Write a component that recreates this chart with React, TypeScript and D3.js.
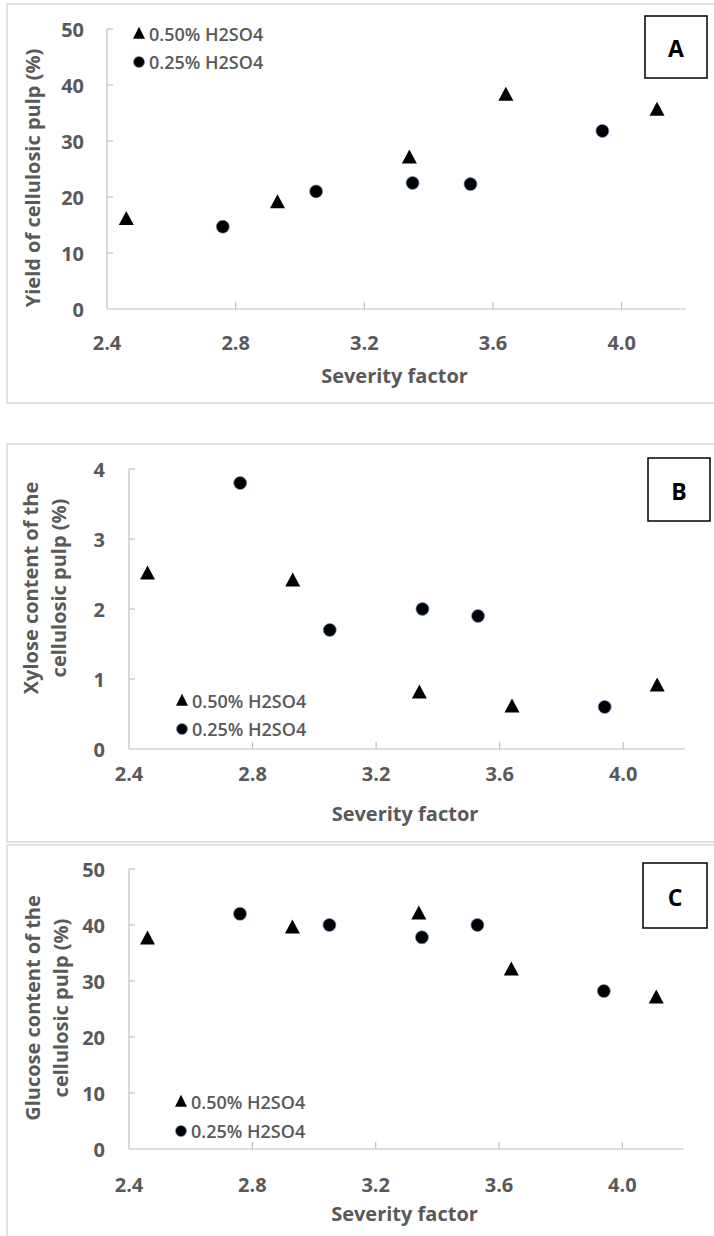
import React from "react";
import * as d3 from "d3";

// Severity factor (x) for both series
const severity050 = [2.46, 2.93, 3.34, 3.64, 4.11];
const severity025 = [2.76, 3.05, 3.35, 3.53, 3.94];

// Panel A: yield of cellulosic pulp (%)
const yieldH050 = [16, 19, 27, 38.2, 35.5];
const yieldH025 = [14.7, 21, 22.5, 22.3, 31.8];

// Panel B: xylose content (%)
const xyloseH050 = [2.5, 2.4, 0.8, 0.6, 0.9];
const xyloseH025 = [3.8, 1.7, 2.0, 1.9, 0.6];

// Panel C: glucose content (%)
const glucoseH050 = [37.5, 39.5, 42, 32, 27];
const glucoseH025 = [42, 40, 37.8, 40, 28.2];

const xTicks = [2.4, 2.8, 3.2, 3.6, 4.0];
const yTicksA = [0, 10, 20, 30, 40, 50];
const yTicksB = [0, 1, 2, 3, 4];
const yTicksC = [0, 10, 20, 30, 40, 50];

const seriesLabels = ["0.50% H2SO4", "0.25% H2SO4"];

const TXT = "#595959";
const AX = "#bfbfbf";
const FONT = "'Open Sans', 'Noto Sans', sans-serif";

type PanelProps = {
  frame: { x: number; y: number; w: number; h: number };
  xRange: [number, number];
  yRange: [number, number];
  yMax: number;
  yTicks: number[];
  yLabelX: number;
  xLabelY: number;
  xTitleY: number;
  yTitle: string[];
  yTitleX: number[];
  yTitleY: number;
  ser050: number[];
  ser025: number[];
  legend: { x: number; y: number; gap: number; size: number };
  box: { x: number; y: number; w: number; h: number; label: string };
};

const tri = (cx: number, cy: number, w: number, h: number) =>
  `M${cx},${cy - h * 0.6} L${cx + w / 2},${cy + h * 0.4} L${cx - w / 2},${cy + h * 0.4} Z`;

function Panel(p: PanelProps) {
  const x = d3.scaleLinear().domain([2.4, 4.2]).range(p.xRange);
  const y = d3.scaleLinear().domain([0, p.yMax]).range(p.yRange);
  const x0 = p.xRange[0];
  const y0 = p.yRange[0];
  const xMid = (p.xRange[0] + p.xRange[1]) / 2;
  return (
    <g>
      <rect
        x={p.frame.x}
        y={p.frame.y}
        width={p.frame.w}
        height={p.frame.h}
        fill="white"
        stroke="#d9d9d9"
        strokeWidth={1.5}
      />
      {/* axes */}
      <line x1={x0} x2={x0} y1={y(p.yMax)} y2={y0} stroke={AX} strokeWidth={1.2} />
      <line x1={x0} x2={p.xRange[1]} y1={y0} y2={y0} stroke={AX} strokeWidth={1.2} />
      {p.yTicks.map((t) => (
        <g key={"y" + t}>
          {t > 0 && <line x1={x0} x2={x0 + 6} y1={y(t)} y2={y(t)} stroke={AX} strokeWidth={1.2} />}
          <text
            x={p.yLabelX}
            y={y(t)}
            textAnchor="end"
            dominantBaseline="central"
            fontSize={20}
            fontWeight={700}
            fill={TXT}
            fontFamily={FONT}
          >
            {t}
          </text>
        </g>
      ))}
      {xTicks.map((t) => (
        <g key={"x" + t}>
          {t > 2.4 && <line x1={x(t)} x2={x(t)} y1={y0} y2={y0 - 7} stroke={AX} strokeWidth={1.2} />}
          <text
            x={x(t)}
            y={p.xLabelY}
            textAnchor="middle"
            dominantBaseline="central"
            fontSize={20}
            fontWeight={700}
            fill={TXT}
            fontFamily={FONT}
          >
            {t.toFixed(1)}
          </text>
        </g>
      ))}
      <text
        x={xMid - 2}
        y={p.xTitleY}
        textAnchor="middle"
        dominantBaseline="central"
        fontSize={20}
        fontWeight={700}
        fill={TXT}
        fontFamily={FONT}
      >
        Severity factor
      </text>
      {p.yTitle.map((line, i) => (
        <text
          key={i}
          transform={`translate(${p.yTitleX[i]},${p.yTitleY}) rotate(-90)`}
          textAnchor="middle"
          dominantBaseline="central"
          fontSize={20}
          fontWeight={700}
          fill={TXT}
          fontFamily={FONT}
        >
          {line}
        </text>
      ))}
      {/* data */}
      {severity050.map((s, i) => (
        <path key={"t" + i} d={tri(x(s), y(p.ser050[i]), 15, 14)} fill="black" />
      ))}
      {severity025.map((s, i) => (
        <circle
          key={"c" + i}
          cx={x(s)}
          cy={y(p.ser025[i])}
          r={6.5}
          fill="black"
          stroke="#6f8fc7"
          strokeWidth={0.7}
        />
      ))}
      {/* legend */}
      <path d={tri(p.legend.x, p.legend.y, 12, 12)} fill="black" />
      <circle cx={p.legend.x} cy={p.legend.y + p.legend.gap} r={5.5} fill="black" stroke="#6f8fc7" strokeWidth={0.7} />
      {seriesLabels.map((l, i) => (
        <text
          key={l}
          x={p.legend.x + 10}
          y={p.legend.y + i * p.legend.gap}
          dominantBaseline="central"
          fontSize={p.legend.size}
          fontWeight={600}
          fill={TXT}
          fontFamily={FONT}
        >
          {l}
        </text>
      ))}
      {/* panel label box */}
      <rect
        x={p.box.x}
        y={p.box.y}
        width={p.box.w}
        height={p.box.h}
        fill="white"
        stroke="black"
        strokeWidth={1.5}
      />
      <text
        x={p.box.x + p.box.w / 2}
        y={p.box.y + p.box.h / 2 + 1}
        textAnchor="middle"
        dominantBaseline="central"
        fontSize={23}
        fontWeight={700}
        fill="black"
        fontFamily={FONT}
      >
        {p.box.label}
      </text>
    </g>
  );
}

export default function App() {
  return (
    <svg
      width={714}
      height={1236}
      style={{ position: "absolute", left: 0, top: 0, background: "white" }}
    >
      <rect x={0} y={0} width={714} height={1236} fill="white" />
      <Panel
        frame={{ x: 7, y: 4, w: 720, h: 399 }}
        xRange={[107, 686]}
        yRange={[309, 29]}
        yMax={50}
        yTicks={yTicksA}
        yLabelX={84}
        xLabelY={342}
        xTitleY={375}
        yTitle={["Yield of cellulosic pulp (%)"]}
        yTitleX={[32]}
        yTitleY={178}
        ser050={yieldH050}
        ser025={yieldH025}
        legend={{ x: 139, y: 34, gap: 28, size: 18 }}
        box={{ x: 645, y: 16, w: 62, h: 62, label: "A" }}
      />
      <Panel
        frame={{ x: 7, y: 444, w: 720, h: 398 }}
        xRange={[129, 685]}
        yRange={[749, 469]}
        yMax={4}
        yTicks={yTicksB}
        yLabelX={105}
        xLabelY={773}
        xTitleY={813}
        yTitle={["Xylose content of the", "cellulosic pulp (%)"]}
        yTitleX={[30, 58]}
        yTitleY={588}
        ser050={xyloseH050}
        ser025={xyloseH025}
        legend={{ x: 182, y: 701, gap: 28, size: 18 }}
        box={{ x: 648, y: 458, w: 62, h: 63, label: "B" }}
      />
      <Panel
        frame={{ x: 7, y: 845, w: 720, h: 420 }}
        xRange={[129, 684]}
        yRange={[1149, 869]}
        yMax={50}
        yTicks={yTicksC}
        yLabelX={105}
        xLabelY={1184}
        xTitleY={1213}
        yTitle={["Glucose content of the", "cellulosic pulp (%)"]}
        yTitleX={[32, 60]}
        yTitleY={1008}
        ser050={glucoseH050}
        ser025={glucoseH025}
        legend={{ x: 181, y: 1102, gap: 29, size: 18 }}
        box={{ x: 643, y: 863, w: 64, h: 65, label: "C" }}
      />
    </svg>
  );
}
